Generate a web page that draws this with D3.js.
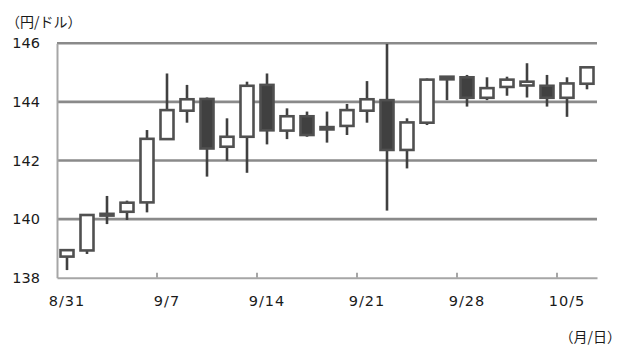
<!DOCTYPE html>
<html>
<head>
<meta charset="utf-8">
<script src="https://cdn.jsdelivr.net/npm/d3@7"></script>
<style>
  body { margin: 0; background: #fff; }
  svg text { font-family: "DejaVu Sans", sans-serif; fill: #1a1a1a; }
  .jp { font-family: "Noto Sans CJK JP", sans-serif; }
</style>
</head>
<body>
<svg id="chart" width="640" height="351"></svg>
<script>
// 日付（営業日）
const dates = ['8/31', '9/1', '9/4', '9/5', '9/6', '9/7', '9/8', '9/11', '9/12', '9/13',
  '9/14', '9/15', '9/18', '9/19', '9/20', '9/21', '9/22', '9/25', '9/26', '9/27',
  '9/28', '9/29', '10/2', '10/3', '10/4', '10/5', '10/6']

// 四本値（円/ドル）
const opens = [138.72, 138.93, 140.18, 140.25, 140.57, 142.73, 143.70, 144.10, 142.47, 142.81,
  144.58, 143.02, 143.51, 143.06, 143.18, 143.70, 144.06, 142.36, 143.29, 144.86,
  144.84, 144.14, 144.51, 144.56, 144.55, 144.14, 144.62]
const highs = [138.94, 140.16, 140.79, 140.63, 143.04, 144.97, 144.58, 144.15, 143.44, 144.69,
  144.97, 143.78, 143.67, 143.67, 143.93, 144.71, 145.98, 143.44, 144.80, 144.88,
  144.92, 144.84, 144.86, 145.32, 144.92, 144.84, 145.18]
const lows = [138.26, 138.81, 139.83, 139.97, 140.23, 142.70, 143.29, 141.45, 141.99, 141.58,
  142.55, 142.73, 142.81, 142.61, 142.87, 143.29, 140.29, 141.73, 143.21, 144.06,
  143.84, 144.06, 144.21, 144.15, 143.84, 143.49, 144.43]
const closes = [138.94, 140.14, 140.12, 140.56, 142.74, 143.72, 144.09, 142.41, 142.81, 144.55,
  143.03, 143.51, 142.87, 143.14, 143.72, 144.09, 142.36, 143.30, 144.76, 144.77,
  144.14, 144.47, 144.76, 144.69, 144.14, 144.63, 145.18]

const yTicks = [138, 140, 142, 144, 146]
const xLabels = ['8/31', '9/7', '9/14', '9/21', '9/28', '10/5']

const data = dates.map((d, i) => ({ date: d, o: opens[i], h: highs[i], l: lows[i], c: closes[i] }))

const margin = { top: 43.3, right: 43, bottom: 73.3, left: 57 }
const W = 640, H = 351
const innerW = W - margin.left - margin.right
const innerH = H - margin.top - margin.bottom

const svg = d3.select('#chart')
const g = svg.append('g').attr('transform', `translate(${margin.left},${margin.top})`)

const x = d3.scaleBand().domain(dates).range([0, innerW]).padding(0)
const y = d3.scaleLinear().domain([138, 146]).range([innerH, 0])

// 横グリッド
g.append('g')
  .attr('class', 'grid')
  .selectAll('line')
  .data(yTicks.filter(t => t > 138))
  .join('line')
  .attr('x1', 0)
  .attr('x2', innerW)
  .attr('y1', d => y(d))
  .attr('y2', d => y(d))
  .attr('stroke', '#8a8a8a')
  .attr('stroke-width', 2.6)

// y軸
const yAxis = d3.axisLeft(y).tickValues(yTicks).tickSize(0).tickPadding(17)
const yAxisG = g.append('g').attr('class', 'y axis').call(yAxis)
yAxisG.select('.domain').attr('stroke', '#a6a6a6').attr('stroke-width', 2)
yAxisG.selectAll('text').attr('font-size', 14.5).attr('fill', '#1a1a1a')

// x軸（ラベルはカテゴリ中央、目盛りは境界）
const xAxis = d3.axisBottom(x).tickValues(xLabels).tickSize(0).tickPadding(18)
const xAxisG = g.append('g').attr('class', 'x axis').attr('transform', `translate(0,${innerH})`).call(xAxis)
xAxisG.select('.domain').attr('stroke', '#a6a6a6').attr('stroke-width', 2)
xAxisG.selectAll('text').attr('font-size', 14.5).attr('fill', '#1a1a1a').attr('letter-spacing', 1)

xAxisG.selectAll('line.boundary')
  .data(xLabels.slice(1))
  .join('line')
  .attr('class', 'boundary')
  .attr('x1', d => x(d))
  .attr('x2', d => x(d))
  .attr('y1', 0)
  .attr('y2', -5)
  .attr('stroke', '#a6a6a6')
  .attr('stroke-width', 2)

// ローソク足
const bw = 13
const candle = g.append('g').attr('class', 'candles')
  .selectAll('g')
  .data(data)
  .join('g')
  .attr('transform', d => `translate(${x(d.date) + x.bandwidth() / 2},0)`)

candle.append('line')
  .attr('y1', d => y(d.h))
  .attr('y2', d => y(d.l))
  .attr('stroke', '#404040')
  .attr('stroke-width', 2.6)

candle.append('rect')
  .attr('x', -bw / 2)
  .attr('width', bw)
  .attr('y', d => y(Math.max(d.o, d.c)))
  .attr('height', d => Math.max(1, Math.abs(y(d.o) - y(d.c))))
  .attr('fill', d => (d.c >= d.o ? '#ffffff' : '#404040'))
  .attr('stroke', '#505050')
  .attr('stroke-width', 2.6)

// 単位
svg.append('text')
  .attr('class', 'jp')
  .attr('x', 6)
  .attr('y', 27)
  .attr('font-size', 14)
  .text('（円/ドル）')

svg.append('text')
  .attr('class', 'jp')
  .attr('x', 621)
  .attr('y', 342)
  .attr('text-anchor', 'end')
  .attr('font-size', 14)
  .text('（月/日）')
</script>
</body>
</html>
